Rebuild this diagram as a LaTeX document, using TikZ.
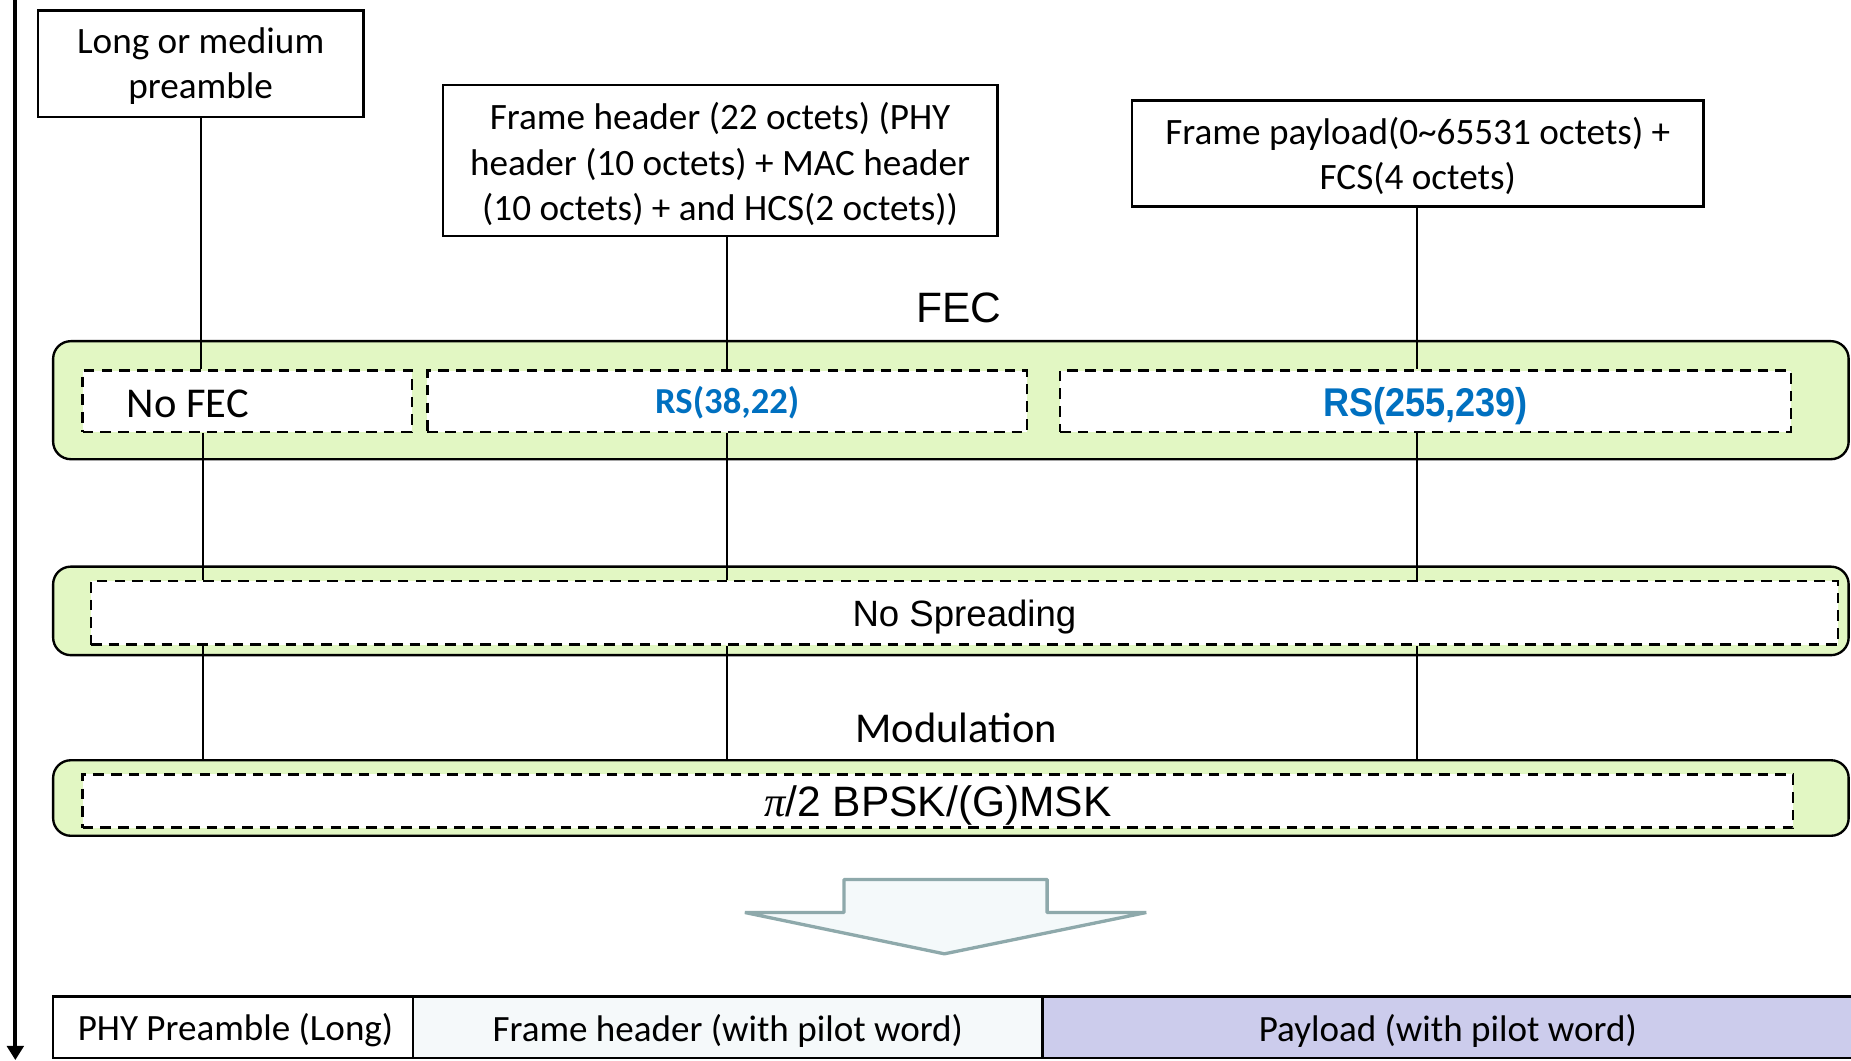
\documentclass[tikz,border=0pt]{standalone}
\usepackage{fontspec}
\setmainfont{Carlito}
\newfontfamily\arialf{Liberation Sans}
\newfontfamily\timesf{Liberation Serif}
\newfontfamily\narrowf[FakeStretch=0.9]{Liberation Sans}
\usetikzlibrary{arrows.meta,calc}
\definecolor{fecgreen}{HTML}{E2F7C3}
\definecolor{rsblue}{HTML}{0070C0}
\definecolor{arrowedge}{HTML}{8EA9AB}
\definecolor{arrowfill}{HTML}{F4F9FA}
\definecolor{payfill}{HTML}{CCCCEC}
\definecolor{hdrfill}{HTML}{F5F9FA}
\begin{document}
\begin{tikzpicture}[x=0.5pt,y=-0.5pt,
 topbox/.style={draw, line width=1pt, inner sep=0pt},
 boxtext/.style={align=center, inner sep=0pt, font=\fontsize{15.75}{19.2}\selectfont},
 greenband/.style={draw, line width=1pt, fill=fecgreen, rounded corners=7.5pt, inner sep=0pt, minimum width=760.5pt},
 dbox/.style={draw, line width=1.1pt, dash pattern=on 4.5pt off 3pt, fill=white, inner sep=0pt},
 link/.style={line width=0.8pt},
 cell/.style={draw, line width=1pt, inner sep=0pt, minimum height=26pt},
 celltext/.style={inner sep=0pt, font=\fontsize{15.7}{18}\selectfont},
 arial/.style={font=\arialf\fontsize{#1}{#1}\selectfont}
]
\useasboundingbox (0,0) rectangle (1568,898);

% column coordinates
\coordinate (colA) at (170,0);
\coordinate (colAl) at (172,0);
\coordinate (colB) at (616,0);
\coordinate (colC) at (1200,0);

% left time axis
\coordinate (axtop) at (13,0);
\coordinate (axbot) at (13,898);
\draw[line width=1.8pt, -{Triangle[width=7pt,length=6pt]}] (axtop) -- (axbot);

% top boxes
\node[topbox, minimum width=138pt, minimum height=45pt] (pre) at (170,54) {};
\node[boxtext] (pretext) at ($(pre.center)+(0,2)$) {Long or medium\\preamble};
\node[topbox, minimum width=235pt, minimum height=64pt] (hdr) at (610,136) {};
\node[boxtext] (hdrtext) at ($(hdr.center)+(0,3)$) {Frame header (22 octets) (PHY\\header (10 octets) + MAC header\\(10 octets) + and HCS(2 octets))};
\node[topbox, minimum width=242pt, minimum height=45pt] (pay) at (1201,130) {};
\node[boxtext] (paytext) at ($(pay.center)+(0,2)$) {Frame payload(0\textasciitilde65531 octets) +\\FCS(4 octets)};

% FEC band
\node[arial=18] (feclabel) at (812,261) {FEC};
\node[greenband, minimum height=50pt] (fecband) at (805.5,339) {};
\node[dbox, minimum width=139.5pt, minimum height=26pt] (nofec) at (209.5,340) {};
\node[font=\fontsize{18}{20}\selectfont, anchor=west, inner sep=0pt] (nofect) at (107,342) {No FEC};
\node[dbox, minimum width=254pt, minimum height=26pt] (rs1) at (616,340) {};
\node[text=rsblue, font=\bfseries\fontsize{15.5}{18}\selectfont, inner sep=0pt] (rs1t) at ($(rs1.center)+(0,1.5)$) {RS(38,22)};
\node[dbox, minimum width=309.5pt, minimum height=26pt] (rs2) at (1207.5,340) {};
\node[text=rsblue, font=\narrowf\bfseries\fontsize{17}{18}\selectfont, inner sep=0pt] (rs2t) at ($(rs2.center)+(0,4)$) {RS(255,239)};

% Spreading band
\node[greenband, minimum height=37.5pt] (sprband) at (805.5,517.5) {};
\node[dbox, minimum width=740pt, minimum height=27pt] (spr) at (817,519) {};
\node[arial=15.5, inner sep=0pt] (sprt) at ($(spr.center)+(0,4)$) {No Spreading};

% Modulation band
\node[font=\fontsize{18}{20}\selectfont] (modlabel) at (810,617) {Modulation};
\node[greenband, minimum height=32pt] (modband) at (805.5,676) {};
\node[dbox, minimum width=724.5pt, minimum height=22.5pt] (mod) at (794.5,678.5) {};
\node[arial=18, inner sep=0pt] (modt) at ($(mod.center)+(0,4)$) {{\timesf\itshape\char"03C0}/2 BPSK/(G)MSK};

% connectors
\draw[link] (pre.south -| colA) -- (nofec.north -| colA);
\draw[link] (hdr.south -| colB) -- (rs1.north -| colB);
\draw[link] (pay.south -| colC) -- (rs2.north -| colC);
\draw[link] (nofec.south -| colAl) -- (spr.north -| colAl);
\draw[link] (rs1.south -| colB) -- (spr.north -| colB);
\draw[link] (rs2.south -| colC) -- (spr.north -| colC);
\draw[link] (spr.south -| colAl) -- (modband.north -| colAl);
\draw[link] (spr.south -| colB) -- (modband.north -| colB);
\draw[link] (spr.south -| colC) -- (modband.north -| colC);

% big hollow arrow
\draw[arrowedge, fill=arrowfill, line width=1.4pt, line join=bevel]
  (715,745) -- (887,745) -- (887,773) -- (971,773) -- (800,808) -- (631,773) -- (715,773) -- cycle;

% resulting frame
\node[cell, minimum width=152.5pt, fill=white] (c1) at (197.5,870) {};
\node[celltext] (c1t) at ($(c1.center)+(2,3)$) {PHY Preamble (Long)};
\node[cell, minimum width=266.5pt, fill=hdrfill] (c2) at (616.5,870) {};
\node[celltext] (c2t) at ($(c2.center)+(0,3)$) {Frame header (with pilot word)};
\node[cell, minimum width=343.5pt, fill=payfill] (c3) at (1226.5,870) {};
\node[celltext] (c3t) at ($(c3.center)+(0,3)$) {Payload (with pilot word)};
\end{tikzpicture}
\end{document}
